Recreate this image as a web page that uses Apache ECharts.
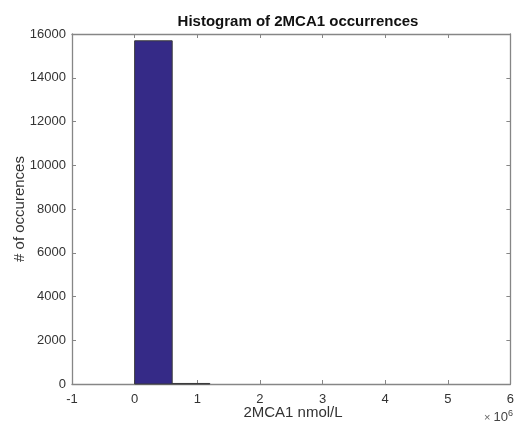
<!DOCTYPE html>
<html>
<head>
<meta charset="utf-8">
<script src="https://cdn.jsdelivr.net/npm/echarts@6/dist/echarts.min.js"></script>
<style>
  html, body { margin: 0; padding: 0; background: #fff; }
  #chart { width: 517px; height: 423px; }
</style>
</head>
<body>
<div id="chart"></div>
<script>
// Histogram bins: left edge, right edge (nmol/L) and counts
const binStarts = [0, 600000];
const binEnds = [600000, 1200000];
const binCounts = [15690, 25];

const xTicks = [-1, 0, 1, 2, 3, 4, 5, 6]; // in units of 10^6
const yTicks = [0, 2000, 4000, 6000, 8000, 10000, 12000, 14000, 16000];

const titleText = 'Histogram of 2MCA1 occurrences';
const xLabel = '2MCA1 nmol/L';
const yLabel = '# of occurences';

const font = 'Helvetica, "Liberation Sans", Arial, sans-serif';
const axisColor = '#868686';
const labelColor = '#333';

const data = binStarts.map((s, i) => [s, binEnds[i], binCounts[i]]);

const chart = echarts.init(document.getElementById('chart'), null, { renderer: 'canvas' });

const scale = 1e6;
const xMin = xTicks[0] * scale, xMax = xTicks[xTicks.length - 1] * scale;
const yMin = yTicks[0], yMax = yTicks[yTicks.length - 1];

function xAxisBase(pos, showLabels) {
  return {
    type: 'value', position: pos, min: xMin, max: xMax, interval: scale,
    axisLine: { show: true, onZero: false, lineStyle: { color: axisColor, width: 1.3 } },
    axisTick: { show: true, inside: true, length: 4, lineStyle: { color: axisColor } },
    axisLabel: { show: showLabels, color: labelColor, fontFamily: font, fontSize: 13, margin: 9,
      formatter: v => String(Math.round(v / scale)) },
    splitLine: { show: false }
  };
}
function yAxisBase(pos, showLabels) {
  return {
    type: 'value', position: pos, min: yMin, max: yMax, interval: 2000,
    axisLine: { show: true, onZero: false, lineStyle: { color: axisColor, width: 1.3 } },
    axisTick: { show: true, inside: true, length: 4, lineStyle: { color: axisColor } },
    axisLabel: { show: showLabels, color: labelColor, fontFamily: font, fontSize: 13, margin: 6,
      formatter: v => String(v) },
    splitLine: { show: false }
  };
}

chart.setOption({
  animation: false,
  backgroundColor: '#fff',
  title: {
    text: titleText, left: 293, top: 9, textAlign: 'center',
    textStyle: { fontFamily: font, fontSize: 15, fontWeight: 'bold', color: '#111' }
  },
  grid: { left: 72, right: 4, top: 34, bottom: 39 },
  xAxis: [xAxisBase('bottom', true), xAxisBase('top', false)],
  yAxis: [yAxisBase('left', true), yAxisBase('right', false)],
  graphic: [
    { type: 'text', x: 293, y: 413,
      style: { text: xLabel, fontFamily: font, fontSize: 15, fill: labelColor, align: 'center', verticalAlign: 'middle' } },
    { type: 'text', x: 20, y: 209, rotation: Math.PI / 2,
      style: { text: yLabel, fontFamily: font, fontSize: 15, fill: labelColor, align: 'center', verticalAlign: 'middle' } },
    { type: 'text', left: 484, top: 409,
      style: { rich: { a: { fontFamily: font, fontSize: 11, fill: '#666' }, b: { fontFamily: font, fontSize: 13, fill: '#444' }, c: { fontFamily: font, fontSize: 9, fill: '#444', verticalAlign: 'top', padding: [0, 0, 8, 0] } },
        text: '{a|× }{b|10}{c|6}' } }
  ],
  series: [{
    type: 'custom',
    xAxisIndex: 0, yAxisIndex: 0,
    data: data,
    encode: { x: [0, 1], y: 2 },
    renderItem: function (params, api) {
      const p0 = api.coord([api.value(0), 0]);
      const p1 = api.coord([api.value(1), api.value(2)]);
      return {
        type: 'rect',
        shape: { x: p0[0], y: p1[1], width: p1[0] - p0[0], height: p0[1] - p1[1] },
        style: { fill: '#352a87', stroke: '#3a3a3a', lineWidth: 1 }
      };
    }
  }]
});
</script>
</body>
</html>
